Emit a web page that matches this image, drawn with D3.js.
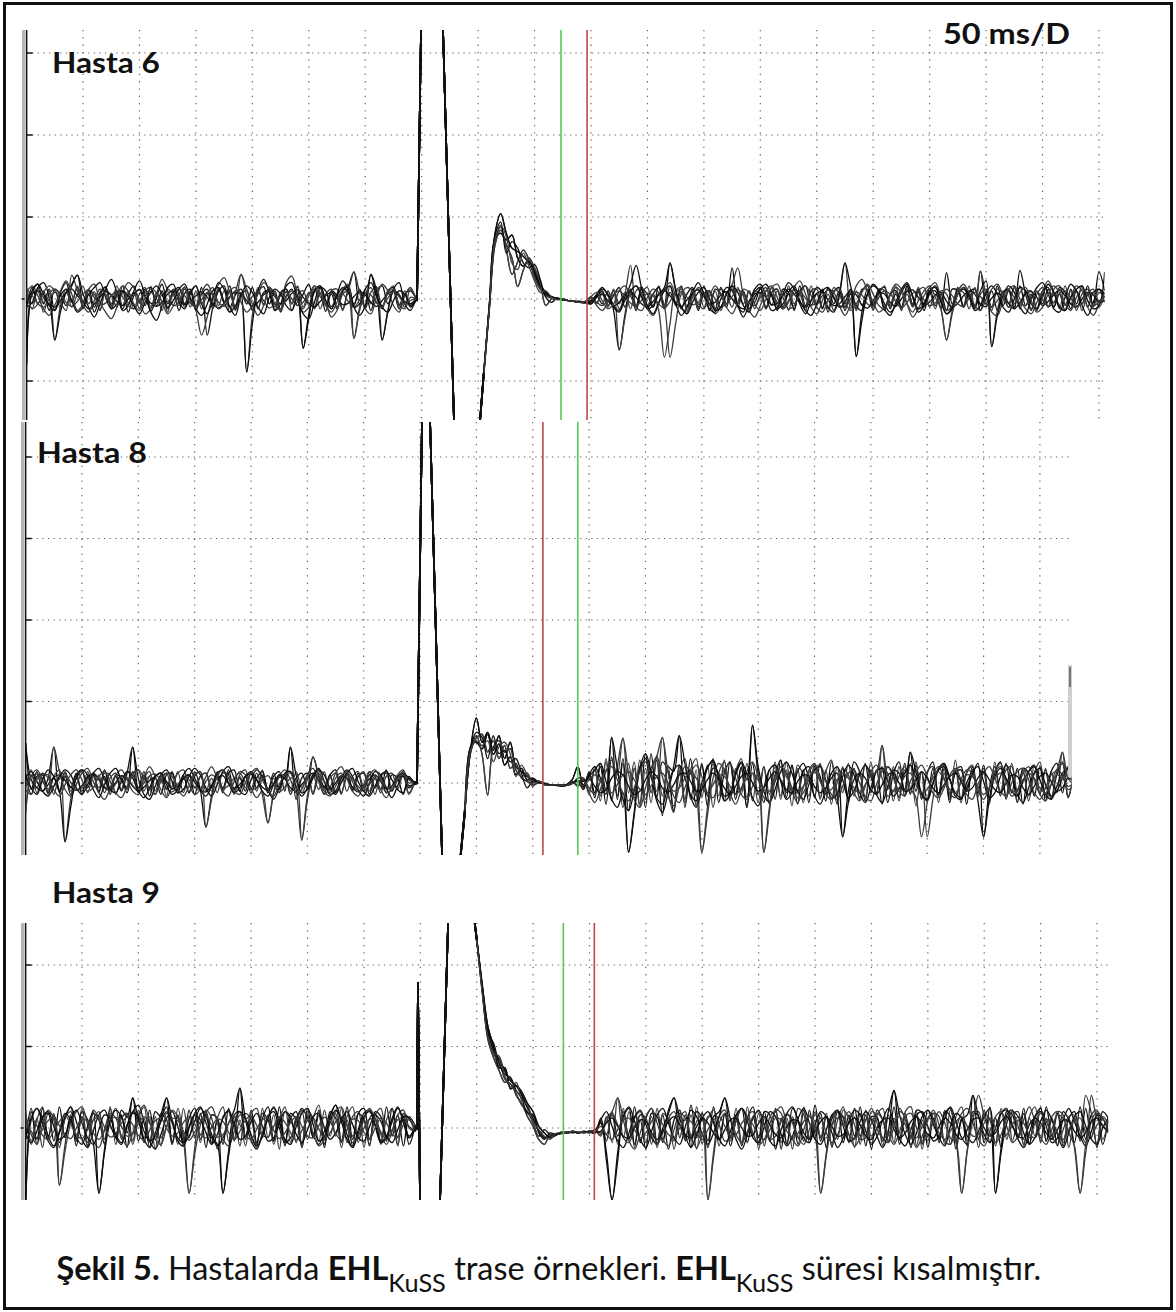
<!DOCTYPE html>
<html>
<head>
<meta charset="utf-8">
<script src="https://cdnjs.cloudflare.com/ajax/libs/d3/7.8.5/d3.min.js"></script>
<style>
  body { margin: 0; background: #fff; }
  svg { display: block; }
</style>
</head>
<body>
<script>
// sweeps are sampled every 5 ms, amplitudes in µV (100 µV per division)
const step = 5;

// ---- Hasta 6 ----
const h6End = 955;
const h6Green = 473.4;
const h6Red = 496.5;
const h6PostStart = 405;
const h6Pre = [
  [-80, 10, 18, -6, 12, -14, 8, 20, -4, 14,
   -10, 6, -16, 4, 15, -8, 10, -12, 6, 16,
   -5, 12, -15, 2, 18, -6, 9, -14, 7, 12,
   -9, 14, -44, -10, 12, -4, 16, -12, 5, 10,
   -14, 8, 15, -6, 10, -16, 4, 12, -8, 6,
   18, -10, 7, -15, 10, 4, -12, 14, 33, -6,
   8, -14, 10, 16, -6, 9, -12, 6, 10, 0],
  [8, -12, 14, -4, 10, -50, -8, 12, -10, 6,
   15, -6, 9, -14, 10, 4, -10, 16, -5, 8,
   -12, 10, 14, -8, 5, -16, 12, 6, -10, 9,
   16, -6, 8, -12, 14, -5, 10, -14, 6, -89,
   -20, 12, -6, 15, -10, 8, 12, -14, 5, 10,
   -8, 16, -12, 6, 12, -10, 9, 14, -6, 10,
   -12, 8, 15, -50, -14, 10, 6, -10, 12, 2],
  [-10, 14, -6, 10, -14, 12, 6, -8, 16, 29,
   -4, 12, -10, 8, 14, -12, 6, 10, -16, 4,
   12, -8, 15, -5, 10, -12, 8, 14, -6, 10,
   -14, 6, 12, -8, 10, 16, -10, 5, 12, -6,
   14, -12, 8, 10, -14, 6, 12, -6, 15, -60,
   -18, 10, 14, -8, 6, -12, 10, 16, -8, 12,
   -10, 30, 4, -12, 10, 14, -8, 6, -10, -2],
  [14, -6, 10, -16, 6, 12, -12, 8, -4, 16,
   -12, 10, 6, -14, 12, -6, 16, -8, 10, -12,
   6, 14, -10, 8, -14, 12, 5, -8, 15, -10,
   10, -12, 6, 14, -8, 10, -16, 8, 30, 4,
   -10, 14, -8, 12, 6, -14, 10, -6, 16, -10,
   8, -12, 14, -6, 10, 12, -14, 8, -48, -10,
   12, -6, 14, -10, 8, 16, -12, 10, -6, 1],
  [-80, 6, 10, 2, -6, -10, -2, 8, 12, 4,
   -4, -12, -6, 2, 9, 5, -3, -8, 0, 7,
   11, 3, -5, -9, -4, 6, 10, 1, -7, -3,
   4, 9, 2, -6, -11, -5, 3, 8, 6, -2,
   -9, -4, 5, 10, 3, -6, -2, 7, 11, 2,
   -5, -10, -3, 4, 8, 1, -7, -5, 3, 9,
   5, -4, -9, -2, 6, 10, 4, -3, -6, 0],
  [8, 16, 4, -12, -20, -8, 10, 22, 6, -14,
   -6, 12, 18, -4, -16, -24, -10, 8, 20, 14,
   -2, -18, -12, 6, 24, 10, -8, -4, 12, 2,
   -14, -44, -22, 4, 18, 26, 8, -10, 30, 12,
   -6, -20, -8, 14, 6, -12, 20, 28, 4, -16,
   -10, 8, 16, -2, -22, -14, 6, 12, 33, 8,
   -12, -18, 2, 18, 10, -8, -16, 4, 14, -2],
  [-10, -4, 14, 20, 2, -50, -16, 8, 18, 29,
   6, -10, -22, -6, 12, 24, 8, -14, -8, 10,
   22, 4, -16, -26, -8, 14, 18, -4, -12, 6,
   16, -6, -18, 0, 20, 12, -10, -20, 4, -89,
   -30, 10, 24, 8, -14, -6, 16, 20, -2, -18,
   -24, -4, 14, 10, -12, 6, 22, 12, -10, -20,
   -8, 30, 10, -50, -16, 12, 20, -6, -14, 2],
  [12, 4, -6, -10, 0, 8, 5, -4, -9, -3,
   6, 11, 2, -7, -5, 4, 10, 3, -8, -12,
   -2, 7, 9, 0, -6, -3, 5, 12, 4, -5,
   -10, -1, 8, 6, -4, -9, 2, 10, 7, -6,
   3, 9, -2, -11, -6, 4, 8, 0, -8, -4,
   7, 12, 3, -6, -9, 2, 6, -3, -10, -1,
   8, 5, -5, -8, 1, 9, 3, -6, -2, 1],
  [-6, 10, 18, 6, -8, -14, 4, 12, -2, -16,
   -10, 6, 14, 20, 2, -12, -6, 10, 4, -8,
   -18, -4, 8, 16, 6, -10, -2, 12, 18, 0,
   -12, -20, -6, 10, 14, -4, -16, -8, 6, 16,
   8, -10, -18, 2, 12, 6, -8, -14, 4, -60,
   -24, 10, 16, -2, -12, 4, 14, 8, -10, -6,
   12, 20, 4, -10, -16, -2, 10, 6, -8, -1],
  [4, -12, -6, 8, 16, 10, -4, -14, 29, 10,
   -8, -16, -2, 12, 6, -10, 4, 16, 10, -6,
   -14, 2, 12, 8, -4, -18, -8, 6, 14, -2,
   -10, 8, 18, 4, -12, -6, 10, 14, -4, -16,
   -8, 6, 20, 12, -6, -14, 2, 10, -2, -12,
   4, 16, 8, -8, -16, -4, 12, 18, -48, -14,
   6, 14, -4, -10, 8, 12, -6, -12, 2, 0]
];
// stimulus artefact [ms, µV], the same in every sweep
const h6Stim = [[345.9, 0], [349.4, 328], [351, 1100], [360, 1250], [364, 565],
  [368.9, 328], [378.6, -148], [384, -420], [393, -300]];
const h6Post = [
  [-89, -5, 80, 104, 80, 62, 58, 52, 44, 30, 15, 6, 2, 0, -1, -2, -3, -4, -4,
   -2, 4, -6, 10, -14, -62, -20, 12, -8, 15,
   -10, 6, 14, -12, 8, -6, 16, -10, 12, -14,
   6, 10, -12, 14, -6, 38, -8, -16, 10, -4,
   14, -12, 8, 12, -10, 6, -14, 16, -8, 10,
   -6, 12, -16, 8, 14, -10, 6, -12, 10, 16,
   -8, 12, -14, 6, 10, -12, 16, -6, 8, -10,
   14, -8, 6, -14, 12, 10, -10, 6, -12, 34,
   -6, 10, -14, 8, 12, -10, 16, -8, 6, -12,
   10, 14, -10, 6, -14, 12, -6, 16, -10, 8, 12, -4],
  [-92, -10, 70, 88, 60, 30, 45, 60, 48, 26, 12, 4, 1, 0, -1, -2, -3, -3, -3,
   3, -6, 8, -4, 10, -12, 6, 41, -10, 8,
   14, -10, 6, -12, 16, -8, 10, -14, 6, 12,
   -10, 8, -14, 12, 6, -10, 14, -6, 10, -12,
   6, 14, -8, 10, -12, 16, -6, 8, -14, 10,
   12, -10, 6, -14, 8, 44, -12, 10, -8, 6,
   -14, 12, 10, -8, 16, -12, 6, -10, 14, -6,
   8, -12, 10, 6, -14, 12, -8, 16, -10, 6,
   12, -58, -14, 10, -6, 14, -12, 8, 10, -14,
   6, -10, 12, 16, -8, 10, -14, 6, 12, -10, 8, 2],
  [-90, -8, 74, 80, 72, 78, 50, 40, 46, 34, 18, 8, 3, 1, 0, -2, -3, -4, -4,
   -6, 2, 10, -8, 4, 14, -10, 8, -14, 12,
   6, -10, 16, -8, 44, 10, -12, 6, 14, -10,
   8, -14, 12, 6, -10, 16, -6, 10, -12, 8,
   14, -10, 6, -14, 12, 8, -12, 10, 16, -8,
   6, -12, 14, -6, 10, -14, 8, -70, -16, 12,
   -8, 10, 14, -12, 6, -10, 16, -8, 12, -14,
   6, 10, -12, 32, -6, 14, -10, 8, 12, -14,
   6, -10, 16, -8, 10, -12, 35, 6, -14, 10,
   -6, 12, -10, 14, 8, -12, 10, -6, 16, -8, 33, 10],
  [-93, -12, 66, 84, 66, 50, 15, 35, 50, 38, 20, -8, 0, 0, -1, -2, -3, -4, -5,
   1, -4, 6, -10, 12, -6, 8, -12, 10, 14,
   -8, 6, -14, -71, -30, 10, 14, -10, 6, -12,
   16, -8, 10, -14, 6, 12, -10, 8, -16, 10,
   6, -12, 14, -8, 10, -14, 12, 6, -10, 16,
   -8, 10, -12, 14, 6, -10, 8, -14, 12, 10,
   -12, 6, 16, -10, 8, -14, 12, -6, 10, 14,
   -10, 6, -12, -50, -14, 10, 8, -12, 14, -6,
   10, -14, 12, 6, -10, 16, -8, 10, -12, 6,
   14, -10, 8, -12, 16, -6, 10, -14, 6, 12, -10, 4],
  [-89, -5, 80, 104, 80, 62, 58, 52, 44, 30, 15, 6, 2, 0, -1, -2, -3, -4, -4,
   -2, 3, 6, -2, -8, -4, 5, 9, 2, -6,
   -10, -3, 6, 10, 4, -5, -9, -1, 7, 11,
   3, -6, -4, 5, 9, 0, -8, -12, -3, 6,
   8, 2, -7, -5, 4, 12, 6, -4, -10, -2,
   7, 9, -1, -8, -6, 3, 10, 5, -7, -11,
   -2, 8, 6, -4, -9, 0, 9, 11, 2, -6,
   -4, 5, 8, -3, -10, -5, 4, 10, 6, -7,
   -9, 1, 7, 3, -5, -12, -4, 6, 9, 2,
   -8, -3, 5, 11, 4, -6, -10, 0, 8, 5, -4, -2],
  [-92, -10, 70, 88, 60, 30, 45, 60, 48, 26, 12, 4, 1, 0, -1, -2, -3, -3, -3,
   2, -8, -14, -4, 10, -62, -24, 8, 16, 6,
   -12, -20, -6, 12, 20, 4, -10, -16, 2, 14,
   8, -6, -18, -10, 6, 18, 38, 4, -14, -22,
   -8, 10, 16, 2, -12, -4, 14, 22, 6, -10,
   -18, -2, 12, 8, -8, -20, -6, 16, 24, 10,
   -4, -16, -10, 6, 18, 12, -6, -22, -12, 4,
   14, 20, 2, -14, -8, 10, 18, 6, -10, 34,
   4, -16, -20, -2, 12, 16, 0, -12, -18, -4,
   10, 22, 8, -8, -14, 2, 16, 10, -10, -20, -6, 8],
  [-90, -8, 74, 80, 72, 78, 50, 40, 46, 34, 18, 8, 3, 1, 0, -2, -3, -4, -4,
   -4, 6, 14, 4, -10, -16, 2, 18, 41, 12,
   -8, -18, -4, 10, 16, -6, -20, -10, 8, 20,
   6, -12, -16, 0, 14, 10, -8, -22, -6, 12,
   18, 4, -14, -10, 6, 20, 12, -6, -18, -2,
   14, 8, -10, -16, 4, 44, 16, -8, -14, 6,
   18, 10, -12, -20, -4, 12, 20, 2, -16, -8,
   8, 16, -2, -18, -12, 6, 14, 4, -10, 10,
   22, -58, -20, 4, 16, 8, -10, -18, 0, 14,
   20, 6, -12, -16, 2, 18, 10, -8, -20, -4, 12, 6],
  [-93, -12, 66, 84, 66, 50, 15, 35, 50, 38, 20, -8, 0, 0, -1, -2, -3, -4, -5,
   1, -4, -8, -2, 6, 10, 3, -5, -9, -1,
   7, 4, -6, -11, -3, 8, 12, 2, -7, -4,
   5, 9, 0, -10, -6, 3, 11, 6, -5, -8,
   2, 10, 7, -4, -12, -2, 6, 9, 1, -7,
   -5, 4, 11, 3, -8, -10, 0, 8, 5, -6,
   -9, 2, 10, 6, -3, -11, -4, 7, 9, -1,
   -8, -5, 5, 12, 4, -6, -9, 1, 8, 3,
   -7, -10, -2, 6, 11, 2, -5, -8, 4, 9,
   0, -9, -4, 7, 10, 1, -8, -6, 5, 8, -2, 3],
  [-91, -7, 76, 94, 56, 70, 62, 44, 38, 42, 24, 2, -4, 1, -1, -2, -3, -3, -4,
   -6, 4, 12, 6, -8, -14, -2, 10, 16, 2,
   -12, -8, 6, 14, 44, 12, -10, -18, -4, 8,
   14, 0, -14, -10, 6, 16, 8, -8, -16, 2,
   12, 18, 4, -12, -6, 8, 16, -2, -14, -20,
   -6, 10, 14, 2, -10, -4, 12, -70, -26, 6,
   16, 10, -6, -16, -8, 8, 18, 4, -12, -6,
   10, 14, -4, -18, -10, 6, 12, 2, -14, -8,
   8, 16, 6, -10, -16, 0, 14, 10, -6, -12,
   4, 18, 8, -10, -14, 2, 12, 16, -2, -12, -8, 33],
  [-90, -9, 72, 90, 76, 44, 36, 56, 40, 22, 8, 10, 2, -1, 0, -2, -3, -4, -3,
   3, 8, -2, -12, -6, 10, 16, 4, -10, -14,
   2, 12, 8, -8, -71, -30, 6, 14, 10, -6,
   -12, 4, 16, 6, -10, -18, -4, 12, 8, -6,
   -14, 0, 14, 18, 2, -12, -8, 6, 16, 4,
   -10, -16, -2, 10, 12, -4, -14, -6, 8, 18,
   6, -8, -12, 4, 14, 8, -6, -16, -2, 10,
   16, 2, -12, -50, -18, 6, 14, 8, -8, -14,
   0, 12, 18, 4, -10, -6, 8, 14, -2, -16,
   -10, 6, 16, 8, -6, -14, 2, 12, 6, -8, -4, 4]
];

// ---- Hasta 8 ----
const h8End = 928;
const h8Red = 459;
const h8Green = 490;
const h8PostStart = 390;
const h8Pre = [
  [49, -8, 14, -10, 6, 44, -12, 8, -14, 10,
   16, -6, 12, -10, 8, -14, 10, 6, -12, 14,
   -6, 10, -16, 8, 12, -8, 14, -12, 6, 10,
   -14, 8, 12, -6, 10, -12, 16, -8, 6, -10,
   14, -6, 10, -12, 8, 14, -10, 44, -20, 6,
   12, -14, 8, -6, 10, 16, -12, 6, -8, 12,
   -10, 14, -6, 8, -12, 10, 6, -14, 8, -2],
  [-37, 10, -6, 12, -14, 8, 16, -72, -20, 8,
   -10, 14, -6, 10, -12, 6, 12, -8, 14, 10,
   -12, 6, 14, -10, 8, -16, 12, -6, 10, -12,
   8, 14, -10, 6, -12, 12, 10, -14, 8, -6,
   12, -10, 16, -8, 6, -12, 10, 14, -8, -70,
   -16, 10, -8, 14, -12, 6, 12, -10, 8, 14,
   -6, 10, -14, 8, 12, -10, 6, 14, -12, 1],
  [12, -14, 8, 10, -12, 6, -10, 14, -6, 12,
   -14, 8, 10, -12, 16, -6, 8, -10, 12, 44,
   -10, 14, -8, 6, -14, 10, 12, -6, 8, -12,
   14, -8, -54, -16, 10, -6, 12, 16, -10, 8,
   -12, 6, 14, -10, 12, -8, 10, -14, 6, 12,
   -6, 32, 8, -14, 10, -12, 6, 14, -10, 8,
   12, -14, 6, -8, 16, -10, 8, 12, -6, -1],
  [-6, 16, -12, 6, 10, -14, 8, 12, -10, 6,
   14, -12, 8, -6, 12, 10, -14, 6, -8, 12,
   16, -10, 8, -14, 6, 12, -8, 14, -12, 10,
   -6, 8, 12, -10, 14, -8, 6, -12, 10, 16,
   -8, 12, -14, -49, -12, 10, 8, -10, 14, -6,
   10, -12, 16, -8, 6, 12, -14, 10, -6, 8,
   14, -10, 6, -12, 8, 12, -8, 10, -14, 0],
  [49, 4, -6, -10, -2, 7, 10, 3, -5, -9,
   -3, 6, 11, 4, -6, -8, 1, 9, 5, -4,
   -10, -5, 3, 8, 12, 2, -7, -4, 5, 10,
   1, -8, -11, -3, 6, 9, 0, -6, -2, 8,
   11, 4, -5, -9, -1, 7, 5, -6, -10, -2,
   6, 12, 3, -4, -8, 0, 9, 6, -5, -11,
   -3, 5, 10, 2, -7, -4, 6, 8, -3, -1],
  [-37, 8, 16, 4, -10, 44, 14, -8, -16, -2,
   12, 18, 2, -12, -20, -6, 10, 16, 4, -10,
   -14, 6, 20, 8, -8, -18, -4, 12, 16, -2,
   -14, -8, 8, 20, 6, -10, -16, 2, 14, 10,
   -6, -18, -10, -49, -14, 8, 16, 4, -12, -8,
   10, 18, 2, -14, -6, 12, 20, 6, -10, -16,
   -2, 14, 8, -8, -18, -4, 10, 16, 0, 2],
  [10, -6, -14, 4, 16, 8, -10, -72, -30, 6,
   16, 10, -8, -18, -2, 12, 18, 4, -6, 44,
   6, -14, -20, -4, 10, 16, 2, -12, -8, 8,
   18, 10, -6, -16, -2, 14, 20, 6, -10, -14,
   4, 16, 8, -8, -20, -6, 12, 14, -4, -16,
   -6, 10, 18, 2, -14, -10, 6, 16, 8, -8,
   -16, 0, 14, 10, -6, -18, -4, 12, 6, -2],
  [-5, 8, 11, 2, -7, -4, 5, 10, 1, -9,
   -6, 3, 12, 6, -4, -10, -1, 8, 7, -3,
   -8, 0, 9, 11, 3, -6, -11, -2, 7, 4,
   -5, -9, 2, 10, 5, -7, -3, 6, 12, 1,
   -8, -6, 4, 9, -2, -11, -5, 6, 3, -70,
   -22, 7, 11, 2, -6, -9, 1, 10, 5, -4,
   -10, -2, 8, 6, -5, -8, 3, 11, 4, 0],
  [6, 14, 2, -10, -16, -4, 8, 16, 10, -6,
   -14, -2, 12, 18, 4, -8, -12, 2, 14, 6,
   -10, -18, -6, 8, 12, -2, -14, -8, 10, 18,
   6, -8, -16, -4, 12, 16, 0, -12, -6, 8,
   14, 4, -10, -16, -2, 10, 6, 44, 10, -12,
   -8, 6, 16, 10, -6, -14, 0, 12, 18, 2,
   -10, -16, -4, 10, 14, 4, -8, -12, 6, 1],
  [-8, -14, 4, 12, 6, -8, -16, -2, 10, 16,
   4, -10, -6, 8, 14, 2, -12, -18, -4, 10,
   16, 6, -8, -14, 2, 12, 8, -6, -16, -4,
   10, 14, -54, -20, 8, 16, 6, -10, -14, 0,
   12, 18, 4, -8, -16, -2, 10, 12, -6, -12,
   4, 32, 10, -10, -16, -4, 8, 14, 2, -10,
   -6, 10, 16, 4, -12, -8, 6, 12, -4, -2]
];
const h8Stim = [[347.3, 0], [351.7, 443], [355.2, 520], [358.9, 443], [369.5, -88],
  [374, -300], [378, -205]];
const h8Post = [
  [-30, 43, 80, 50, 62, 40, 58, 30, 50, 20, 14, 8, 4, 2, 0, -2, -2, -3, -2, 4, 20,
   -6, 12, -18, 24, -10, 56, -20, 30, -34, 18,
   -26, 36, -12, 28, -40, 20, 14, 58, -30, 16,
   -28, 22, -16, 30, -24, 12, 26, -20, 18, -30,
   24, -14, 20, -26, 10, 28, -18, 22, -12, 16,
   -24, 20, 8, -22, 26, -14, -66, -10, 18, -20,
   24, -12, 16, -26, 20, 10, -18, 24, -14, 22,
   -20, 12, 26, -16, 18, -24, 14, 20, -10, 16,
   -22, -66, -8, 20, -16, 24, -12, 18, -26, 14,
   22, -14, 16, -20, 10, 24, -18, 12],
  [-32, 38, 55, 60, 38, 52, 30, 46, 18, 24, 6, 2, -2, 0, -1, -2, -3, -2, -3, -1, 6,
   4, -10, 16, -22, 30, -18, 20, 55, -12, 26,
   -30, 18, -24, 34, -16, 22, -36, 12, 30, -20,
   16, -85, -30, 24, -16, 28, -22, 14, 30, -18,
   12, -24, 20, -14, 26, -20, 16, -28, 22, 10,
   -16, 24, -20, 14, 28, -12, 20, -24, 16, -18,
   22, 12, -14, 46, -8, 20, -22, 16, -12, 26,
   -18, 14, 20, -24, 12, -16, 28, -20, 14, 22,
   -14, 18, -26, 12, 20, -16, 24, -10, 16, -22,
   12, 26, -18, 14, -12, 38, -16, 10],
  [-28, 45, 50, 42, 60, 35, 48, 22, 32, 10, 18, 4, 6, 1, -1, -3, -2, -4, -3, 0, 2,
   -8, 14, -12, 20, -26, 32, -16, 24, -85, -40,
   20, -30, 36, -18, 26, 14, -34, 22, -20, 30,
   -16, 24, -28, 18, 12, -22, 26, -14, 20, -30,
   71, 10, -24, 16, -20, 28, -12, 22, -26, 14,
   20, -18, 24, -14, 12, -26, 18, -20, 26, 14,
   -22, 16, -12, 20, -24, 12, 26, -16, 38, -10,
   14, -22, 18, -14, 24, -20, 12, 16, -26, 20,
   -12, 22, -18, 14, 26, -20, 10, -24, 18, 12,
   -16, 20, -22, 14, 24, -12, 18, -8],
  [-34, 40, 58, 35, -15, 44, 52, 38, 42, 16, 8, 12, 0, 3, -2, -2, -3, -3, -2, 2, -4,
   6, -14, 20, -16, 26, -22, 16, -30, 24, -18,
   28, -20, 14, 32, 56, -10, -36, 20, -24, 16,
   30, -18, 22, -30, 12, 26, -20, 18, -14, 24,
   -22, 16, -85, -36, 20, -16, 26, -14, 18, -24,
   12, 22, -18, 16, -26, 20, -12, 24, -16, 14,
   -20, 26, -14, 18, 12, -22, 20, -16, 24, -28,
   14, -66, -20, 16, 22, -14, 18, -24, 12, 20,
   -18, 14, -22, 26, -12, 16, 20, -24, 14, -16,
   22, -12, 18, -20, 14, 26, -18, 8],
  [-30, 43, 80, 50, 62, 40, 58, 30, 50, 20, 14, 8, 4, 2, 0, -2, -2, -3, -2, 4, 20,
   -4, 10, 20, 6, -14, 56, 18, -20, -34, -10,
   16, 30, 8, -22, -36, -12, 20, 58, 24, -16,
   -30, -8, 18, 28, 4, -22, -14, 12, 26, 10,
   -18, -28, -6, 16, 22, 2, -20, -12, 14, 24,
   6, -16, -26, -8, 12, 20, 4, -18, -10, 10,
   22, 8, -14, -24, -4, 16, 12, -8, 38, 14,
   -12, -22, -2, 18, 24, 6, -16, -20, 0, 14,
   20, 2, -18, -12, 8, 22, 10, -14, -24, -6,
   12, 18, -2, -16, -10, 6, 20, 4],
  [-32, 38, 55, 60, 38, 52, 30, 46, 18, 24, 6, 2, -2, 0, -1, -2, -3, -2, -3, -1, 6,
   6, -12, -24, -8, 14, 28, 10, 55, 12, -20,
   -30, -6, 18, 32, 8, -16, -28, -4, 20, 14,
   -10, -85, -40, 6, 24, 16, -12, -26, -8, 14,
   26, 8, -18, -22, 2, 20, 12, -10, -24, -6,
   16, 24, 4, -14, -20, 0, 18, 10, -12, -22,
   -4, 14, 22, 6, -16, -10, 8, 20, -6, -18,
   -66, -24, 10, 20, 6, -12, -18, 4, 16, 12,
   -8, -20, -6, 14, 24, 2, -16, -10, 12, 20,
   4, -14, -22, -2, 16, 10, -8, -4],
  [-28, 45, 50, 42, 60, 35, 48, 22, 32, 10, 18, 4, 6, 1, -1, -3, -2, -4, -3, 0, 2,
   -2, 8, 16, 24, 2, -20, -30, -12, -85, -36,
   18, 36, 14, -18, -26, -4, 16, 22, 6, -14,
   -22, 0, 20, 26, 8, -16, -12, 10, 24, 4,
   71, 20, -10, -24, -8, 14, 26, 12, -10, -20,
   -2, 16, 20, 4, -18, -14, 8, 22, 10, -12,
   -24, -6, 14, 18, 2, -16, -8, 12, 22, 6,
   -14, -20, 0, 16, 20, 4, -12, -18, -6, 10,
   24, -66, -22, 8, 18, 6, -10, -16, 2, 14,
   20, 4, -14, -20, -4, 12, 18, 2],
  [-34, 40, 58, 35, -15, 44, 52, 38, 42, 16, 8, 12, 0, 3, -2, -2, -3, -3, -2, 2, -4,
   4, -6, -14, 2, 16, 20, 4, -12, -22, -6,
   14, 26, 10, -10, 56, 14, -16, -24, -6, 12,
   22, 8, -12, -18, 0, 16, 24, 6, -14, -20,
   -4, 10, -85, -30, 8, 20, 12, -6, -18, -12,
   4, 18, 22, 2, -14, -20, -4, 12, 16, 0,
   -16, -22, -2, 14, 20, 6, -10, -16, 2, 14,
   22, 8, -12, -18, -6, 10, 18, 4, -14, -20,
   -2, 12, 20, 6, -10, -16, 0, 14, 18, 4,
   -12, -20, -6, 10, 16, 38, 6, -2],
  [-31, 42, 62, 56, 30, 58, 36, 40, 26, 30, 12, -6, 2, 1, -1, -2, -3, -3, -2, 1, 3,
   2, 6, -4, -12, -8, 6, 14, 10, -4, -14,
   -10, 4, 14, 8, -6, -12, -2, 10, 12, 2,
   -10, -8, 4, 12, 6, -6, -14, -4, 8, 12,
   0, -10, -6, 6, 14, 4, -8, -12, 2, 10,
   8, -4, -12, -6, 6, 12, -66, -24, 4, 12,
   6, -8, -14, -2, 10, 12, 0, -10, -8, 4,
   14, 6, -6, -12, -2, 8, 12, 2, -10, -6,
   6, 14, 4, -8, -12, 0, 10, 8, -6, -14,
   -4, 8, 12, 2, -10, -6, 6, 2],
  [-33, 41, 52, 46, 52, 26, 44, 50, 36, 8, 22, 10, -4, 2, -2, -3, -2, -3, -3, 0, -2,
   -3, 4, 10, 2, -8, -12, -2, 10, 14, 4,
   -8, -14, -4, 8, 12, 0, -10, -6, 6, 14,
   6, -6, -12, -2, 10, 8, -4, -14, -6, 6,
   12, 4, -8, -10, 2, 14, 8, -6, -12, -4,
   8, 14, 2, -10, -8, 4, 12, 6, -6, -12,
   -2, 10, 14, 46, 4, -10, -6, 8, 12, -2,
   -12, -8, 6, 14, 4, -8, -12, 0, 10, 8,
   -4, -14, -6, 6, 12, 2, -10, -8, 4, 12,
   6, -6, -12, -2, 10, 6, -4, 0]
];

// ---- Hasta 9 ----
const h9End = 960;
const h9Green = 476.8;
const h9Red = 504.3;
const h9PostStart = 400;
const h9Pre = [
  [-100, 20, -14, 24, -10, 16, -18, 12, 26, -16,
   14, -22, 18, 10, -20, 24, -12, 16, -24, 20,
   12, -18, 22, -14, 10, 26, -20, 14, -16, 22,
   -12, 18, -24, 16, 12, -20, 24, -14, 49, -10,
   14, -22, 18, 10, -16, 26, -18, 12, 20, -24,
   16, -12, 22, -20, 14, 28, -16, 10, -22, 18,
   24, -14, 12, -20, 26, -10, 16, -22, 14, 4],
  [22, -16, 12, -24, 18, 14, -70, -20, 16, -12,
   24, -18, 10, 20, -14, 26, -20, 12, 18, -16,
   22, -12, 14, -26, 18, 10, -20, 24, -14, -80,
   -24, 16, 20, -18, 12, 26, -16, 14, -22, 18,
   10, -20, 24, -12, 16, -26, 20, 14, -18, 22,
   -14, 12, 28, -20, 16, -10, 24, -18, 14, 20,
   -24, 12, 18, -16, 10, 24, -20, 14, -12, -2],
  [-14, 24, -20, 12, 18, -16, 26, -12, 14, -22,
   20, 10, -18, -80, -26, 16, -12, 22, 14, 37,
   -16, 12, -24, 20, 14, 37, -18, 16, -22, 12,
   24, -14, 18, -20, 10, -80, -28, 16, 20, -14,
   22, -18, 12, 26, -16, 14, -22, 18, 10, -20,
   24, -12, 16, -24, 20, 12, -18, 26, -14, 18,
   10, -22, 20, 14, -16, 24, -12, 18, -20, 0],
  [16, -20, 10, 26, -14, 18, -24, 12, 20, -16,
   14, -24, 22, 12, -18, 10, 24, -14, 18, -20,
   12, 26, -16, 14, -22, 18, 10, -20, 24, -12,
   16, -18, 22, 12, -26, 14, 20, -16, 10, -22,
   18, 24, -12, 16, -20, 10, 26, -18, 14, -24,
   20, 12, -16, 22, -10, 18, -24, 14, 26, -18,
   12, -20, 16, 24, -14, 10, -22, 18, 12, -4],
  [-100, 10, 24, 12, -10, -22, -6, 14, 26, 8,
   -14, -24, -4, 16, 22, 4, -12, -20, 2, 20,
   28, 6, -16, -26, -8, 12, 20, 2, -18, -10,
   8, 24, 14, -8, -22, -12, 6, 22, 49, 10,
   -16, -26, -6, 14, 20, 0, -18, -12, 10, 24,
   12, -8, -20, -4, 16, 28, 8, -14, -24, -2,
   18, 22, 4, -16, -10, 12, 26, 6, -12, 2],
  [14, -8, -20, 4, 22, 10, -70, -28, 6, 20,
   26, 4, -16, -24, -2, 18, 12, -10, -22, -6,
   16, 28, 8, -14, -20, 2, 22, 14, -8, -80,
   -32, 4, 20, 26, 6, -14, -22, -4, 16, 10,
   -10, -24, -8, 14, 24, 6, -16, -12, 8, 22,
   14, -6, -22, -14, 6, 20, 26, 2, -18, -10,
   10, 24, 12, -8, -20, -4, 16, 22, 0, -4],
  [-14, 12, 24, 6, -16, -24, -4, 18, 10, -12,
   -20, 2, 20, -80, -30, 8, 22, 14, -6, 37,
   10, -14, -24, -6, 16, 37, 8, -16, -22, 0,
   18, 26, 6, -12, -20, -80, -34, 6, 20, 12,
   -8, -22, -10, 12, 26, 8, -14, -20, 2, 18,
   24, 4, -16, -10, 10, 22, 12, -8, -24, -6,
   14, 20, 2, -18, -12, 8, 24, 10, -10, 0],
  [6, 12, 3, -9, -14, -4, 8, 15, 5, -8,
   -13, -2, 10, 14, 1, -11, -7, 6, 13, 4,
   -9, -15, -3, 9, 12, 0, -10, -6, 7, 14,
   5, -8, -12, 1, 11, 8, -5, -14, -4, 10,
   15, 3, -9, -11, 2, 13, 7, -6, -15, -3,
   9, 12, -1, -12, -6, 8, 14, 4, -10, -13,
   0, 11, 9, -5, -14, -2, 10, 13, 2, -3],
  [-6, -18, -4, 14, 20, 2, -14, -8, 10, 22,
   6, -12, -20, -2, 16, 12, -8, -18, 4, 18,
   14, -4, -16, -10, 8, 20, 6, -12, -18, 2,
   16, 10, -6, -20, -8, 12, 22, 4, -14, -10,
   8, 18, 2, -16, -12, 6, 20, 10, -8, -18,
   -2, 14, 18, 0, -14, -6, 10, 20, 4, -12,
   -16, 2, 16, 8, -10, -18, -2, 14, 12, -2],
  [10, -4, -12, -2, 9, 14, 3, -8, -13, 0,
   11, 8, -6, -14, -3, 10, 13, 2, -10, -7,
   5, 14, 6, -9, -12, 1, 12, 9, -4, -15,
   -5, 8, 13, 3, -11, -8, 6, 15, 4, -9,
   -14, -1, 10, 12, -3, -13, -6, 7, 14, 2,
   -10, -12, 3, 13, 8, -7, -15, -2, 11, 9,
   -5, -13, 0, 12, 6, -8, -11, 4, 10, -2]
];
const h9Stim = [[347, 0], [347.9, 179], [349.7, -88], [352, -300], [362, -320],
  [367.5, -88], [374.6, 251], [380, 470], [388, 520], [393, 312]];
const h9Post = [
  [232, 172, 120, 95, 84, 70, 58, 52, 40, 25, 12, -4, -12, -10, -8, -6, -6, -5, -6, -5, -5, -4,
   8, -30, -88, -40, 20, -14, 26, -18, 12, 24,
   -20, 16, -26, 10, 22, -16, 28, -12, 18, -24,
   14, 20, 37, -10, 16, -22, 12, 26, -18, 20,
   -14, 24, -26, 16, 10, -20, 22, -12, 28, -16,
   14, -24, 20, 12, -18, 24, -10, 16, -26, 22,
   10, -16, 26, -20, 14, -12, 22, 18, -24, 12,
   -18, 20, 14, -26, 10, 16, 40, -14, 22, -18,
   12, -24, 20, 16, -12, 24, -20, 14, -16, 26,
   -10, 18, -22, 12, 20, -16, 24, -12, 18, -20, 10],
  [230, 166, 108, 86, 70, 56, 60, 40, 30, 14, 2, -14, -20, -8, -7, -6, -5, -6, -5, -6, -4, -3,
   -10, 14, -18, 37, -12, 20, -24, 16, 12, -20,
   24, -14, 18, -26, 12, 20, -16, 26, -20, 14,
   10, -22, 18, -12, 24, -18, 14, 20, -26, 12,
   -16, 22, 18, -20, 14, -12, 26, -18, 10, -80,
   -30, 16, -14, 22, 12, -24, 18, -10, 20, 14,
   -22, 16, -18, 24, 10, -14, 20, -26, 12, 18,
   -12, 22, -20, 14, 26, -16, 12, -24, 18, 10,
   -18, 24, -14, 16, 20, -22, 12, -10, 26, -16,
   14, 20, -18, 12, -24, -80, -20, 16, 22, -14, 8],
  [233, 175, 124, 100, 74, 74, 48, 52, 44, 30, 20, 2, -6, -12, -9, -5, -6, -4, -6, -5, -5, -6,
   12, -16, 20, -10, 14, 24, -20, 10, -26, 18,
   14, -18, 22, 37, -12, 16, -24, 20, 12, -16,
   26, -14, 18, -22, 10, 24, -18, 14, -12, 20,
   16, -26, 12, -20, 24, 10, -16, 22, -14, 18,
   -24, 12, 20, -18, 16, -10, 26, -22, 14, 12,
   -16, 20, 46, -12, 18, -24, 14, -20, 22, 10,
   -14, 18, 24, -16, 12, -22, 20, 14, -18, 26,
   -80, -24, 16, 22, -12, 18, -20, 14, 24, -16,
   12, -22, 20, 10, -18, 26, -14, 16, -24, 20, 12],
  [231, 168, 112, 90, 82, 60, 54, 42, 28, 20, 6, -10, -2, -8, -8, -7, -6, -5, -6, -4, -6, -2,
   6, -8, 16, -20, 24, -14, 12, 20, -18, 14,
   -24, 18, 10, -16, 22, -12, 16, -26, 20, -88,
   -30, 14, 22, -16, 12, -20, 26, -10, 18, -22,
   14, 20, -18, 12, -26, 24, 16, -14, 20, -12,
   18, -22, 10, 26, -16, 14, -20, 22, -12, 16,
   24, -18, 12, -14, 20, 26, -22, 10, -16, 18,
   14, -20, 22, -12, -80, -26, 16, 20, -14, 12,
   -22, 18, 24, -16, 10, -20, 14, 26, -18, 12,
   -14, 20, 16, -24, 12, -10, 40, 18, -20, 14, 6],
  [232, 172, 120, 95, 84, 70, 58, 52, 40, 25, 12, -4, -12, -10, -8, -6, -6, -5, -6, -5, -5, -4,
   6, -40, -88, -30, 14, 26, 8, -14, -24, -4,
   16, 24, 6, -12, -20, 2, 22, 14, -8, -20,
   -6, 14, 37, 10, -14, -26, -8, 12, 22, 4,
   -16, -22, -2, 18, 26, 8, -12, -18, 4, 20,
   14, -6, -24, -12, 8, 22, 16, -4, -20, -10,
   10, 24, 6, -14, -22, -2, 16, 20, 2, -16,
   -10, 12, 26, 8, -12, -20, 40, 14, -8, -18,
   0, 18, 22, 4, -14, -24, -6, 14, 20, 2,
   -18, -12, 10, 24, 8, -10, -22, -4, 16, 12, -2],
  [230, 166, 108, 86, 70, 56, 60, 40, 30, 14, 2, -14, -20, -8, -7, -6, -5, -6, -5, -6, -4, -3,
   -8, 12, 20, 37, 10, -16, -26, -6, 14, 24,
   6, -14, -22, -2, 18, 12, -10, -24, -8, 12,
   22, 4, -16, -12, 8, 24, 14, -6, -20, -14,
   6, 20, 26, 4, -14, -22, -2, 16, -6, -80,
   -34, 4, 20, 14, -8, -22, -12, 10, 24, 6,
   -12, -18, 2, 20, 14, -6, -24, -10, 10, 22,
   4, -16, -20, 0, 18, 24, 6, -14, -22, -4,
   14, 20, 2, -18, -10, 10, 26, 8, -12, -20,
   -2, 16, 12, -6, -22, -80, -30, 8, 20, 12, -4],
  [233, 175, 124, 100, 74, 74, 48, 52, 44, 30, 20, 2, -6, -12, -9, -5, -6, -4, -6, -5, -5, -6,
   10, 20, 2, -16, -24, -6, 14, 22, 4, -12,
   -20, 0, 18, 37, 12, -10, -24, -8, 12, 20,
   6, -14, -22, -4, 16, 24, 8, -12, -18, 2,
   20, 14, -8, -22, -10, 12, 24, 6, -14, -20,
   -2, 16, 22, 2, -16, -12, 8, 20, 10, -10,
   -24, -4, 46, 16, -8, -20, -6, 14, 22, 4,
   -12, -22, 2, 18, 12, -10, -18, -4, 14, 24,
   -80, -30, 6, 20, 14, -6, -20, -12, 8, 22,
   10, -8, -24, -6, 14, 20, 2, -14, -20, 0, 12],
  [231, 168, 112, 90, 82, 60, 54, 42, 28, 20, 6, -10, -2, -8, -8, -7, -6, -5, -6, -4, -6, -2,
   -6, 8, 18, 4, -12, -18, 2, 16, 10, -10,
   -20, -6, 12, 20, 4, -14, -10, 8, 18, -88,
   -36, 6, 18, 12, -8, -18, -4, 14, 20, 2,
   -14, -10, 8, 18, 6, -12, -20, -2, 16, 12,
   -6, -18, -8, 10, 20, 4, -14, -12, 6, 18,
   10, -8, -20, -4, 14, 18, 0, -16, -10, 8,
   20, 6, -12, -18, -80, -28, 10, 40, 14, -6,
   -18, -8, 12, 20, 2, -14, -12, 6, 18, 8,
   -10, -20, -2, 14, 16, -4, -18, 40, 12, 4, -6],
  [232, 170, 116, 104, 78, 66, 62, 46, 36, 18, 16, -6, -14, -6, -8, -6, -5, -5, -6, -5, -4, -5,
   -4, 6, 12, 2, -10, -12, 0, 10, 8, -6,
   -14, -4, 8, 14, 4, -8, -12, 2, 12, 6,
   -6, -14, -2, 10, 12, 0, -10, -8, 6, 14,
   4, -8, -12, 2, 10, 8, -6, -14, -4, 8,
   14, 2, -10, -8, 6, 12, 4, -10, -14, 0,
   10, 12, -2, -12, -6, 8, 14, 4, -8, -12,
   2, 12, 6, -8, -14, -2, 10, 12, 0, -10,
   -6, 8, 14, 2, -10, -12, 4, 12, 6, -6,
   -14, -2, 10, 8, -4, -12, -6, 8, 12, 2, -4],
  [231, 164, 110, 92, 88, 64, 50, 56, 34, 28, 8, -2, -10, -14, -7, -6, -6, -4, -5, -6, -5, -4,
   2, -8, -14, -2, 10, 12, -2, -12, -6, 8,
   14, 4, -8, -12, 0, 10, 8, -6, -14, -2,
   10, 14, 2, -10, -8, 6, 12, 4, -10, -14,
   -2, 12, 10, -4, -12, -6, 8, 14, 2, -10,
   -12, 4, 12, 6, -8, -14, 0, 10, 12, -2,
   -12, -8, 6, 14, 4, -10, -12, 2, 12, 8,
   -6, -14, -4, 8, 14, 2, -10, -8, 6, 12,
   0, -12, -8, 4, 14, 6, -8, -12, 2, 10,
   8, -6, -14, -2, 10, 12, -4, -10, 4, 10, 2]
];

// screen geometry of the three recordings
const panels = [
  { id: 'h6', label: 'Hasta 6', labelX: 52, labelY: 73, labelW: 108,
    left: 26.6, msPx: 1.1288, top: 30, bottom: 420, base: 299, uvPx: 0.82,
    end: h6End, pre: h6Pre, stim: h6Stim, postStart: h6PostStart, post: h6Post,
    green: h6Green, red: h6Red },
  { id: 'h8', label: 'Hasta 8', labelX: 37, labelY: 463, labelW: 110,
    left: 25.6, msPx: 1.127, top: 422, bottom: 855, base: 783, uvPx: 0.815,
    end: h8End, pre: h8Pre, stim: h8Stim, postStart: h8PostStart, post: h8Post,
    green: h8Green, red: h8Red },
  { id: 'h9', label: 'Hasta 9', labelX: 52, labelY: 903, labelW: 108,
    left: 25.6, msPx: 1.1278, top: 923, bottom: 1200, base: 1128, uvPx: 0.815,
    end: h9End, pre: h9Pre, stim: h9Stim, postStart: h9PostStart, post: h9Post,
    green: h9Green, red: h9Red }
];

const sweepColors = ['#0d0d0d', '#3c3c3c'];
const fontFamily = 'Lato, "Open Sans", sans-serif';

const svg = d3.select('body')
  .append('svg')
    .attr('width', 1176)
    .attr('height', 1312);

svg.append('rect')
    .attr('x', 4.5)
    .attr('y', 3.5)
    .attr('width', 1167)
    .attr('height', 1305)
    .attr('fill', '#fff')
    .attr('stroke', '#111')
    .attr('stroke-width', 3);

// squeeze a text horizontally to the width it has in the figure
function fitWidth(sel, x0, width) {
  const w = sel.node().getComputedTextLength();
  const k = width / w;
  sel.attr('transform', `translate(${x0},0) scale(${k},1) translate(${-x0},0)`);
}

panels.forEach(p => {
  const yMax = (p.base - p.top) / p.uvPx;
  const yMin = -(p.bottom - p.base) / p.uvPx;
  const right = p.left + p.end * p.msPx;

  const x = d3.scaleLinear().domain([0, p.end]).range([p.left, right]);
  const y = d3.scaleLinear().domain([yMin, yMax]).range([p.bottom, p.top]);

  const g = svg.append('g');

  g.append('clipPath')
      .attr('id', 'clip-' + p.id)
    .append('rect')
      .attr('x', p.left)
      .attr('y', p.top)
      .attr('width', right - p.left)
      .attr('height', p.bottom - p.top);

  // dotted grid
  const xTicks = d3.range(50, p.end + 1, 50);
  const yTicks = d3.range(Math.ceil(yMin / 100) * 100, yMax, 100);

  g.selectAll('.vgrid')
      .data(xTicks)
    .join('line')
      .attr('x1', d => x(d))
      .attr('x2', d => x(d))
      .attr('y1', p.top)
      .attr('y2', p.bottom)
      .attr('stroke', '#666')
      .attr('stroke-width', 1.2)
      .attr('stroke-dasharray', '1.3 6');

  g.selectAll('.hgrid')
      .data(yTicks)
    .join('line')
      .attr('x1', p.left)
      .attr('x2', right)
      .attr('y1', d => y(d))
      .attr('y2', d => y(d))
      .attr('stroke', '#666')
      .attr('stroke-width', 1.2)
      .attr('stroke-dasharray', '1.3 4.3');

  // left amplitude axis
  g.append('rect')
      .attr('x', p.left - 4.6)
      .attr('y', p.top)
      .attr('width', 3)
      .attr('height', p.bottom - p.top)
      .attr('fill', '#b5b5b5');

  g.append('line')
      .attr('x1', p.left)
      .attr('x2', p.left)
      .attr('y1', p.top)
      .attr('y2', p.bottom)
      .attr('stroke', '#111')
      .attr('stroke-width', 1.6);

  g.selectAll('.tick')
      .data(yTicks)
    .join('line')
      .attr('x1', d => d === 0 ? p.left - 5 : p.left)
      .attr('x2', d => d === 0 ? p.left - 2 : p.left + 6)
      .attr('y1', d => y(d))
      .attr('y2', d => y(d))
      .attr('stroke', '#111')
      .attr('stroke-width', 1.5);

  // traces
  const noisy = d3.line()
      .x(d => x(d[0]))
      .y(d => y(d[1]))
      .curve(d3.curveCatmullRom.alpha(0.5));
  const straight = d3.line()
      .x(d => x(d[0]))
      .y(d => y(d[1]));

  const traces = g.append('g')
      .attr('clip-path', `url(#clip-${p.id})`)
      .attr('fill', 'none');

  p.pre.forEach((pre, k) => {
    const prePts = pre.map((v, i) => [i * step, v]);
    const postPts = p.post[k].map((v, i) => [p.postStart + i * step, v]);
    const stimPts = [prePts[prePts.length - 1], ...p.stim, postPts[0]];

    traces.append('path')
        .attr('d', noisy(prePts))
        .attr('stroke', sweepColors[k % 2])
        .attr('stroke-width', 1.3);
    traces.append('path')
        .attr('d', straight(stimPts))
        .attr('stroke', '#111')
        .attr('stroke-width', 1.7);
    traces.append('path')
        .attr('d', noisy(postPts))
        .attr('stroke', sweepColors[k % 2])
        .attr('stroke-width', 1.3);
  });

  // latency cursors
  [[p.green, '#55cc55'], [p.red, '#b8484e']].forEach(([t, c]) => {
    g.append('line')
        .attr('x1', x(t))
        .attr('x2', x(t))
        .attr('y1', p.top)
        .attr('y2', p.bottom)
        .attr('stroke', c)
        .attr('stroke-width', 1.6);
  });

  const label = g.append('text')
      .attr('x', p.labelX)
      .attr('y', p.labelY)
      .attr('font-family', fontFamily)
      .attr('font-weight', 'bold')
      .attr('font-size', 29)
      .attr('fill', '#111')
      .text(p.label);
  fitWidth(label, p.labelX, p.labelW);
});

// scroll marker at the right edge of the second recording
svg.append('rect')
    .attr('x', 1068)
    .attr('y', 665)
    .attr('width', 4)
    .attr('height', 112)
    .attr('fill', '#cfcfcf');
svg.append('rect')
    .attr('x', 1069)
    .attr('y', 667)
    .attr('width', 2)
    .attr('height', 20)
    .attr('fill', '#777');

const sweepLabel = svg.append('text')
    .attr('x', 943)
    .attr('y', 44)
    .attr('font-family', fontFamily)
    .attr('font-weight', 'bold')
    .attr('font-size', 28)
    .attr('fill', '#111')
    .text('50 ms/D');
fitWidth(sweepLabel, 943, 127);

// caption
const caption = svg.append('text')
    .attr('x', 56.5)
    .attr('y', 1280)
    .attr('font-family', fontFamily)
    .attr('font-size', 32)
    .attr('fill', '#111');
caption.append('tspan').attr('font-weight', 'bold').text('Şekil 5.');
caption.append('tspan').text(' Hastalarda ');
caption.append('tspan').attr('font-weight', 'bold').text('EHL');
caption.append('tspan').attr('font-size', 25).attr('dy', 12).text('KuSS');
caption.append('tspan').attr('dy', -12).text(' trase örnekleri. ');
caption.append('tspan').attr('font-weight', 'bold').text('EHL');
caption.append('tspan').attr('font-size', 25).attr('dy', 12).text('KuSS');
caption.append('tspan').attr('dy', -12).text(' süresi kısalmıştır.');
fitWidth(caption, 56.5, 985);
</script>
</body>
</html>
